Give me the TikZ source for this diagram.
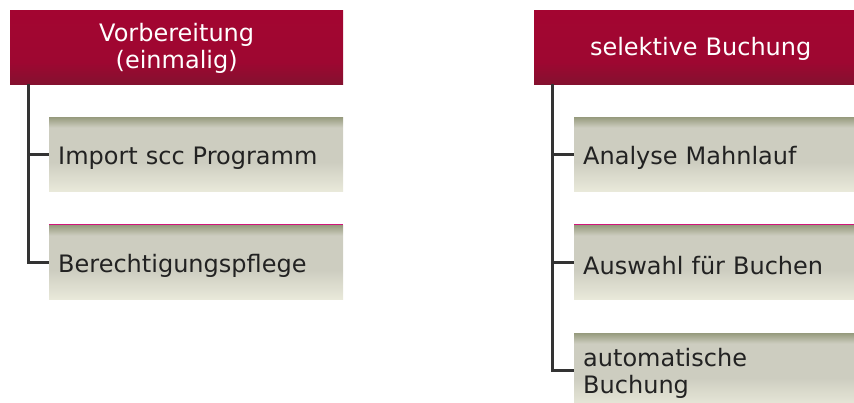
\documentclass[tikz,border=0pt]{standalone}
\usepackage{fontspec}
\setmainfont{DejaVu Sans}
\definecolor{hTop}{HTML}{A30531}
\definecolor{hMid}{HTML}{9E0731}
\definecolor{hBot}{HTML}{84112F}
\definecolor{cTop}{HTML}{979B7E}
\definecolor{cMid}{HTML}{CDCDC0}
\definecolor{cBot}{HTML}{E9E9DA}
\definecolor{lineC}{HTML}{333333}
\definecolor{txtC}{HTML}{222222}
\definecolor{accent}{HTML}{D0157A}
\pgfdeclareverticalshading{headshade}{100bp}{color(0bp)=(hBot); color(25bp)=(hBot); color(40bp)=(hMid); color(75bp)=(hTop); color(100bp)=(hTop)}
\pgfdeclareverticalshading{childshade}{100bp}{color(0bp)=(cBot); color(25bp)=(cBot); color(45bp)=(cMid); color(68bp)=(cMid); color(75bp)=(cTop); color(100bp)=(cTop)}
\begin{document}
\begin{tikzpicture}[x=1pt,y=1pt,
  headbox/.style={anchor=north west, shading=headshade, minimum height=74pt,
    text width=313pt, inner xsep=10pt, align=center, text=white,
    text height=21.5pt,
    font=\fontsize{24}{27}\selectfont},
  childbox/.style={anchor=north west, shading=childshade, minimum height=74pt,
    text width=276pt, inner xsep=9pt, align=left, text=txtC,
    text height=25.5pt,
    font=\fontsize{24}{27}\selectfont},
  conn/.style={draw=lineC, line width=3pt},
  accentline/.style={draw=accent, line width=1pt}]
\useasboundingbox (0,0) rectangle (854,403);
\clip (0,0) rectangle (854,403);
% left column
\node[headbox] (h1) at (10,393) {Vorbereitung\\(einmalig)};
\node[childbox] (c11) at (49,286) {Import scc Programm};
\node[childbox] (c12) at (49,178) {Berechtigungspflege};
\draw[accentline] (c12.north west) -- (c12.north east);
\coordinate (t1) at ([xshift=18pt]h1.south west);
\draw[conn] (t1) |- (c12.west);
\draw[conn] (t1 |- c11.west) -- (c11.west);
% right column
\node[headbox] (h2) at (534,393) {selektive Buchung};
\node[childbox] (c21) at (574,286) {Analyse Mahnlauf};
\node[childbox] (c22) at (574,178) {Auswahl für Buchen};
\node[childbox] (c23) at (574,70) {automatische\\Buchung};
\draw[accentline] (c22.north west) -- (c22.north east);
\coordinate (t2) at ([xshift=18pt]h2.south west);
\draw[conn] (t2) |- (c23.west);
\draw[conn] (t2 |- c21.west) -- (c21.west);
\draw[conn] (t2 |- c22.west) -- (c22.west);
\end{tikzpicture}
\end{document}
